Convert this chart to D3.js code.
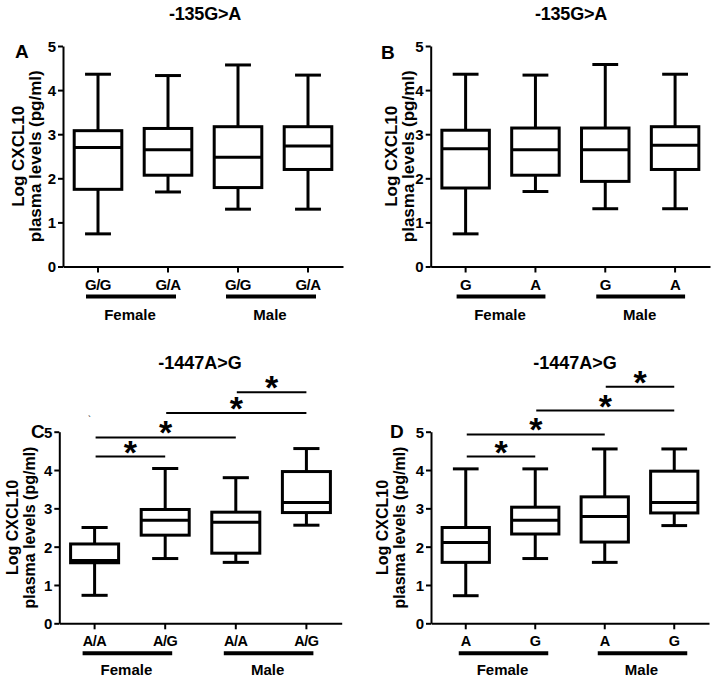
<!DOCTYPE html>
<html>
<head>
<meta charset="utf-8">
<script src="https://cdn.jsdelivr.net/npm/d3@7"></script>
<style>
  html, body { margin: 0; padding: 0; background: #fff; }
  svg text { font-family: "Liberation Sans", Arial, sans-serif; font-weight: bold; fill: #000; }
</style>
</head>
<body>
<svg id="chart" width="716" height="682"></svg>
<script>
// ---------- data ----------
const titleTop = "-135G>A";
const titleBottom = "-1447A>G";
const panelLetters = ["A", "B", "C", "D"];
const yTicks = [0, 1, 2, 3, 4, 5];
const yLabelLines = ["Log CXCL10", "plasma levels (pg/ml)"];
const groups = ["Female", "Male"];

const labelsA = ["G/G", "G/A", "G/G", "G/A"];
const labelsB = ["G", "A", "G", "A"];
const labelsC = ["A/A", "A/G", "A/A", "A/G"];
const labelsD = ["A", "G", "A", "G"];

// box stats: [min, q1, median, q3, max]
const boxesA = [[0.74, 1.75, 2.70, 3.08, 4.36], [1.69, 2.07, 2.65, 3.13, 4.33], [1.30, 1.79, 2.48, 3.17, 4.57], [1.30, 2.20, 2.73, 3.17, 4.34]];
const boxesB = [[0.74, 1.78, 2.67, 3.09, 4.36], [1.70, 2.07, 2.65, 3.14, 4.34], [1.31, 1.93, 2.65, 3.14, 4.58], [1.31, 2.20, 2.75, 3.17, 4.36]];
const boxesC = [[0.73, 1.58, 1.64, 2.07, 2.50], [1.69, 2.30, 2.69, 2.97, 4.04], [1.59, 1.83, 2.64, 2.90, 3.80], [2.56, 2.89, 3.15, 3.96, 4.56]];
const boxesD = [[0.72, 1.59, 2.11, 2.50, 4.03], [1.69, 2.33, 2.69, 3.03, 4.03], [1.59, 2.12, 2.79, 3.30, 4.55], [2.55, 2.88, 3.15, 3.97, 4.55]];

// significance comparisons (category index pairs) and their heights in data units
const sigPairs = [[0, 1], [0, 2], [1, 3], [2, 3]];
const sigLevelsC = [4.35, 4.85, 5.49, 6.03];
const sigLevelsD = [4.35, 4.93, 5.55, 6.17];
const sigMark = "*";

// ---------- layout (positions / styles only) ----------
const panels = [
  { letter: panelLetters[0], title: titleTop, labels: labelsA, boxes: boxesA, sig: null,
    x0: 63, x1: 343, yTop: 46, yBot: 266.5, titlePos: [205, 20], titleLs: -0.2, letterPos: [15, 58],
    ylabX: [24, 41], ylabFs: 17, tickFs: 15, xlabFs: 15, xlabPad: 7, ulY: 296.5, ulOff: [-12, 8], grpY: 320 },
  { letter: panelLetters[1], title: titleTop, labels: labelsB, boxes: boxesB, sig: null,
    x0: 430.7, x1: 710, yTop: 46, yBot: 266.5, titlePos: [571, 20], titleLs: -0.2, letterPos: [381, 59],
    ylabX: [397, 414], ylabFs: 17, tickFs: 15, xlabFs: 15, xlabPad: 7, ulY: 296.5, ulOff: [-9, 10], grpY: 320 },
  { letter: panelLetters[2], title: titleBottom, labels: labelsC, boxes: boxesC, sig: sigLevelsC,
    x0: 59.3, x1: 341.7, yTop: 431.7, yBot: 623.3, titlePos: [200, 369], titleLs: 0, letterPos: [31, 438],
    ylabX: [18, 35], ylabFs: 16, tickFs: 15, xlabFs: 14.5, xlabPad: 6, ulY: 653.3, ulOff: [-12, 7], grpY: 675 },
  { letter: panelLetters[3], title: titleBottom, labels: labelsD, boxes: boxesD, sig: sigLevelsD,
    x0: 431, x1: 709, yTop: 431.7, yBot: 623.3, titlePos: [575, 369], titleLs: 0, letterPos: [390, 438],
    ylabX: [388, 405], ylabFs: 16, tickFs: 15, xlabFs: 14.5, xlabPad: 6, ulY: 653.3, ulOff: [-7, 13], grpY: 675 }
];

const svg = d3.select("#chart");
svg.append("rect").attr("width", 716).attr("height", 682).attr("fill", "#fff");

panels.forEach((p, pi) => {
  const g = svg.append("g");
  const y = d3.scaleLinear().domain([0, 5]).range([p.yBot, p.yTop]);
  const idx = p.labels.map((_, i) => i);
  const x = d3.scaleBand().domain(idx).range([p.x0, p.x1]).padding(0);
  const cx = i => x(i) + x.bandwidth() / 2;
  const boxW = x.bandwidth() * 0.68;
  const capW = x.bandwidth() * 0.37;

  // title
  g.append("text").attr("x", p.titlePos[0]).attr("y", p.titlePos[1])
    .attr("text-anchor", "middle").attr("font-size", 18).attr("letter-spacing", p.titleLs).text(p.title);
  // panel letter
  g.append("text").attr("x", p.letterPos[0]).attr("y", p.letterPos[1])
    .attr("font-size", 19).text(p.letter);

  // y label
  const ymid = (p.yTop + p.yBot) / 2;
  yLabelLines.forEach((t, li) => {
    g.append("text")
      .attr("transform", `translate(${p.ylabX[li]},${ymid}) rotate(-90)`)
      .attr("text-anchor", "middle").attr("font-size", p.ylabFs).text(t);
  });

  // y axis
  const ya = g.append("g").attr("transform", `translate(${p.x0},0)`)
    .call(d3.axisLeft(y).tickValues(yTicks).tickFormat(d3.format("d")).tickSize(5).tickPadding(2).tickSizeOuter(0));
  ya.select(".domain").attr("stroke-width", 2).attr("stroke", "#000");
  ya.selectAll(".tick line").attr("stroke-width", 2).attr("stroke", "#000");
  ya.selectAll(".tick text").attr("font-size", p.tickFs).attr("font-family", null).attr("dy", "0.36em");

  // x axis
  const xa = g.append("g").attr("transform", `translate(0,${p.yBot})`)
    .call(d3.axisBottom(x).tickFormat(i => p.labels[i]).tickSize(6).tickPadding(p.xlabPad).tickSizeOuter(0));
  xa.select(".domain").attr("stroke-width", 2).attr("stroke", "#000");
  xa.selectAll(".tick line").attr("stroke-width", 2).attr("stroke", "#000");
  xa.selectAll(".tick text").attr("font-size", p.xlabFs).attr("font-family", null).attr("letter-spacing", -0.5);

  // group underlines and labels
  groups.forEach((gr, gi) => {
    const a = cx(gi * 2) + p.ulOff[0], b = cx(gi * 2 + 1) + p.ulOff[1];
    g.append("line").attr("x1", a).attr("x2", b).attr("y1", p.ulY).attr("y2", p.ulY)
      .attr("stroke", "#000").attr("stroke-width", 4);
    g.append("text").attr("x", (a + b) / 2 - 1).attr("y", p.grpY).attr("text-anchor", "middle")
      .attr("font-size", 15).text(gr);
  });

  // boxes
  p.boxes.forEach((s, i) => {
    const [mn, q1, md, q3, mx] = s;
    const c = cx(i);
    const bg = g.append("g").attr("stroke", "#000").attr("stroke-width", 3).attr("fill", "none");
    bg.append("line").attr("x1", c).attr("x2", c).attr("y1", y(mn)).attr("y2", y(q1));
    bg.append("line").attr("x1", c).attr("x2", c).attr("y1", y(q3)).attr("y2", y(mx));
    bg.append("line").attr("x1", c - capW / 2).attr("x2", c + capW / 2).attr("y1", y(mn)).attr("y2", y(mn));
    bg.append("line").attr("x1", c - capW / 2).attr("x2", c + capW / 2).attr("y1", y(mx)).attr("y2", y(mx));
    bg.append("rect").attr("x", c - boxW / 2).attr("width", boxW)
      .attr("y", y(q3)).attr("height", y(q1) - y(q3)).attr("fill", "#fff");
    bg.append("line").attr("x1", c - boxW / 2).attr("x2", c + boxW / 2).attr("y1", y(md)).attr("y2", y(md));
  });

  // significance bars
  if (p.sig) {
    sigPairs.forEach((pr, k) => {
      const a = cx(pr[0]) + 1, b = cx(pr[1]);
      const yy = y(p.sig[k]);
      g.append("line").attr("x1", a).attr("x2", b).attr("y1", yy).attr("y2", yy)
        .attr("stroke", "#000").attr("stroke-width", 2);
      g.append("text").attr("x", (a + b) / 2).attr("y", yy + 7)
        .attr("text-anchor", "middle").attr("font-size", 34).text(sigMark);
    });
  }
});

// small stray mark near panel C
svg.append("text").attr("x", 88).attr("y", 422).attr("font-size", 9).attr("fill", "#555")
  .style("font-weight", "normal").text("`");
</script>
</body>
</html>
